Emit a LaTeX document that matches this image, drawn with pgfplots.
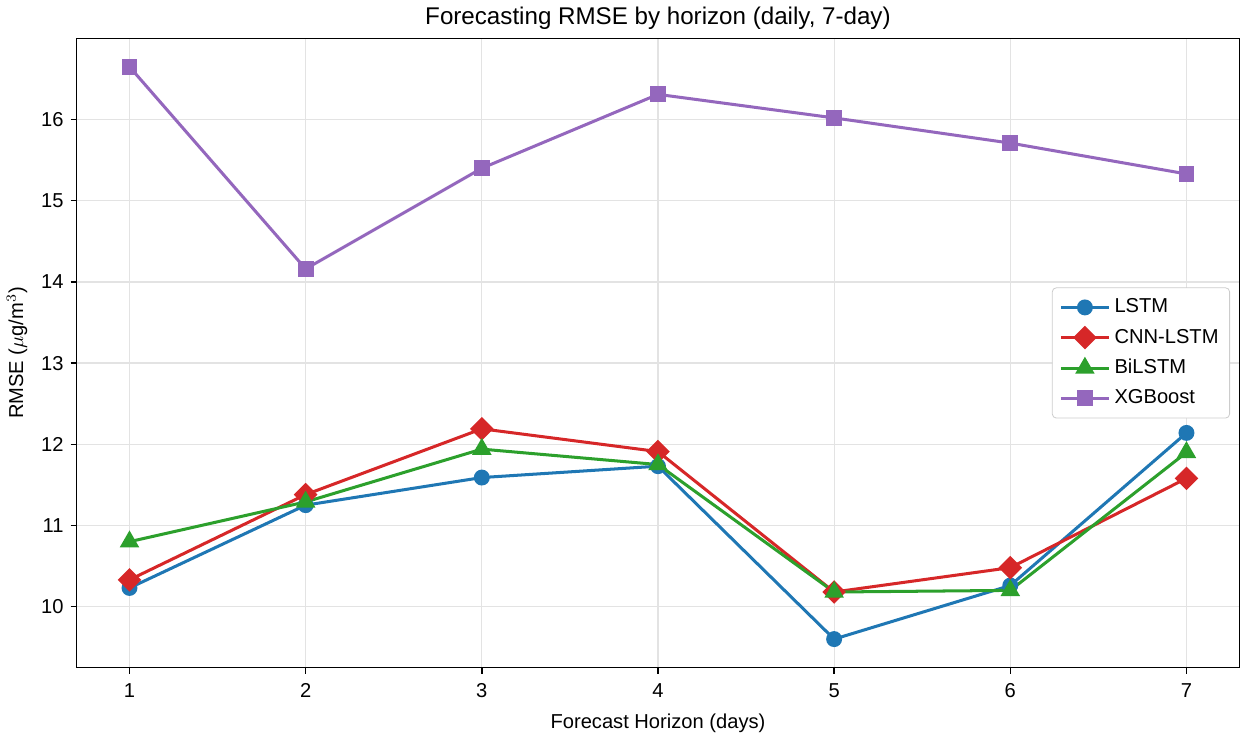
\documentclass[border=0pt]{standalone}
\usepackage{pgfplots}
\pgfplotsset{compat=1.18}
\usepackage{fontspec}
\setmainfont{Liberation Sans}
\definecolor{tblue}{HTML}{1F77B4}
\definecolor{tred}{HTML}{D62728}
\definecolor{tgreen}{HTML}{2CA02C}
\definecolor{tpurple}{HTML}{9467BD}
\begin{document}
\begin{tikzpicture}
\begin{axis}[
  scale only axis,
  width=577.5pt, height=312.5pt,
  xmin=0.7, xmax=7.3, ymin=9.25, ymax=17.0,
  xtick={1,2,3,4,5,6,7},
  ytick={10,11,12,13,14,15,16},
  tick align=outside, tick pos=left,
  major tick length=3pt,
  grid=major,
  grid style={gray!22, line width=0.6pt},
  axis line style={black, line width=0.7pt},
  tick style={black, line width=0.7pt},
  /pgf/number format/assume math mode=true,
  tick label style={font=\fontsize{10}{12}\selectfont},
  xticklabel style={yshift=-1.5pt},
  label style={font=\fontsize{10}{12}\selectfont},
  xlabel style={yshift=-1pt},
  title style={font=\fontsize{12}{14}\selectfont, yshift=-5pt},
  title={Forecasting RMSE by horizon (daily, 7-day)},
  xlabel={Forecast Horizon (days)},
  ylabel={RMSE ($\mu$g/m$^3$)},
  legend style={at={(rel axis cs:0.992,0.5)}, anchor=east, font=\fontsize{10}{12}\selectfont,
    draw=gray!40, rounded corners=2pt, row sep=2.5pt, inner sep=3.5pt},
  legend cell align=left,
  legend image code/.code={%
    \draw[mark repeat=2, mark phase=2] plot coordinates {(0cm,0cm) (0.42cm,0cm) (0.84cm,0cm)};},
  every axis plot/.append style={line width=1.5pt},
]
\addplot[color=tblue, mark=*, mark size=3.2pt] coordinates {
 (1,10.23) (2,11.25) (3,11.59) (4,11.73) (5,9.60) (6,10.26) (7,12.14)};
\addlegendentry{LSTM}
\addplot[color=tred, mark=square*, mark size=3.4pt, mark options={rotate=45}] coordinates {
 (1,10.33) (2,11.38) (3,12.19) (4,11.91) (5,10.18) (6,10.48) (7,11.58)};
\addlegendentry{CNN-LSTM}
\addplot[color=tgreen, mark=triangle*, mark size=4.1pt] coordinates {
 (1,10.80) (2,11.29) (3,11.94) (4,11.75) (5,10.18) (6,10.20) (7,11.90)};
\addlegendentry{BiLSTM}
\addplot[color=tpurple, mark=square*, mark size=3.2pt] coordinates {
 (1,16.65) (2,14.16) (3,15.40) (4,16.31) (5,16.02) (6,15.71) (7,15.33)};
\addlegendentry{XGBoost}
\end{axis}
\end{tikzpicture}
\end{document}
